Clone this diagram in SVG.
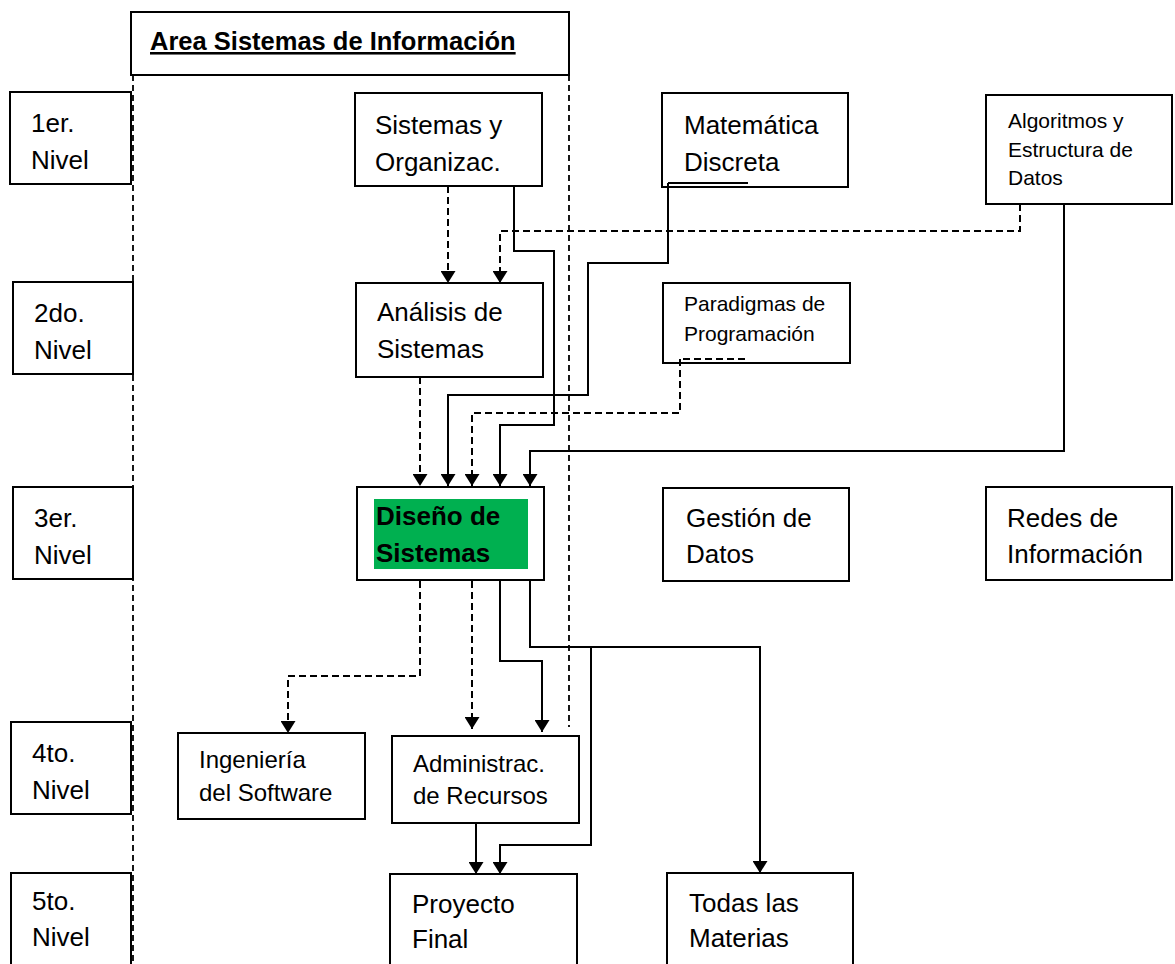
<svg xmlns="http://www.w3.org/2000/svg" width="1175" height="964" viewBox="0 0 1175 964">
<defs>
<style>
.box{fill:#fff;stroke:#000;stroke-width:2}
.t{font-family:"Liberation Sans",Arial,sans-serif;font-size:26px;fill:#000}
.m{font-size:24px}
.s{font-size:21px}
.b{font-weight:bold}
.h{font-size:25.5px}
.c{fill:none;stroke:#000;stroke-width:2}
.d{stroke-dasharray:7 4}
.border{fill:none;stroke:#000;stroke-width:1.8;stroke-dasharray:6 4}
</style>
<marker id="ah" viewBox="0 0 12 15" refX="12" refY="7.5" markerWidth="12" markerHeight="15" markerUnits="userSpaceOnUse" orient="auto">
<path d="M0,0 L12,7.5 L0,15 z" fill="#000"/>
</marker>
</defs>
<rect width="1175" height="964" fill="#fff"/>

<g id="area">
<rect class="box" x="131" y="12" width="438" height="63"/>
<text class="t b h" x="150" y="50" text-decoration="underline">Area Sistemas de Información</text>
</g>

<g id="borders">
<path class="border" d="M133,75 V964"/>
<path class="border" d="M569,75 V727"/>
</g>

<g id="nivel1"><rect class="box" x="10" y="92" width="121" height="92"/><text class="t" x="31" y="132">1er.</text><text class="t" x="31" y="169">Nivel</text></g>
<g id="nivel2"><rect class="box" x="13" y="282" width="120" height="92"/><text class="t" x="34" y="322">2do.</text><text class="t" x="34" y="359">Nivel</text></g>
<g id="nivel3"><rect class="box" x="13" y="487" width="120" height="92"/><text class="t" x="34" y="527">3er.</text><text class="t" x="34" y="564">Nivel</text></g>
<g id="nivel4"><rect class="box" x="11" y="722" width="120" height="92"/><text class="t" x="32" y="762">4to.</text><text class="t" x="32" y="799">Nivel</text></g>
<g id="nivel5"><rect class="box" x="11" y="873" width="120" height="100"/><text class="t" x="32" y="910">5to.</text><text class="t" x="32" y="946">Nivel</text></g>

<g id="sistemas-organizac"><rect class="box" x="355" y="93" width="187" height="93"/><text class="t" x="375" y="134">Sistemas y</text><text class="t" x="375" y="171">Organizac.</text></g>
<g id="matematica-discreta"><rect class="box" x="662" y="93" width="186" height="94"/><text class="t" x="684" y="134">Matemática</text><text class="t" x="684" y="171">Discreta</text></g>
<g id="algoritmos"><rect class="box" x="986" y="95" width="186" height="109"/><text class="t s" x="1008" y="128">Algoritmos y</text><text class="t s" x="1008" y="157">Estructura de</text><text class="t s" x="1008" y="185">Datos</text></g>
<g id="analisis-sistemas"><rect class="box" x="356" y="283" width="187" height="94"/><text class="t" x="377" y="321">Análisis de</text><text class="t" x="377" y="358">Sistemas</text></g>
<g id="paradigmas"><rect class="box" x="663" y="283" width="187" height="80"/><text class="t s" x="684" y="311">Paradigmas de</text><text class="t s" x="684" y="341">Programación</text></g>
<g id="diseno-sistemas"><rect class="box" x="357" y="487" width="187" height="93"/><rect x="374" y="499" width="154" height="70" fill="#00B050"/><text class="t b" x="376" y="525">Diseño de</text><text class="t b" x="376" y="562">Sistemas</text></g>
<g id="gestion-datos"><rect class="box" x="663" y="488" width="186" height="93"/><text class="t" x="686" y="527">Gestión de</text><text class="t" x="686" y="563">Datos</text></g>
<g id="redes-informacion"><rect class="box" x="986" y="487" width="186" height="93"/><text class="t" x="1007" y="527">Redes de</text><text class="t" x="1007" y="563">Información</text></g>
<g id="ingenieria-software"><rect class="box" x="178" y="733" width="187" height="86"/><text class="t m" x="199" y="768">Ingeniería</text><text class="t m" x="199" y="801">del Software</text></g>
<g id="administrac-recursos"><rect class="box" x="392" y="736" width="187" height="87"/><text class="t m" x="413" y="772">Administrac.</text><text class="t m" x="413" y="804">de Recursos</text></g>
<g id="proyecto-final"><rect class="box" x="390" y="874" width="187" height="100"/><text class="t" x="412" y="913">Proyecto</text><text class="t" x="412" y="948">Final</text></g>
<g id="todas-materias"><rect class="box" x="667" y="873" width="186" height="101"/><text class="t" x="689" y="912">Todas las</text><text class="t" x="689" y="947">Materias</text></g>

<g id="connectors">
<path class="c d" d="M448,186 V283" marker-end="url(#ah)"/>
<path class="c d" d="M1020,204 V231 H500 V283" marker-end="url(#ah)"/>
<path class="c d" d="M420,377 V486" marker-end="url(#ah)"/>
<path class="c d" d="M683,359 H748"/>
<path class="c d" d="M680,359 V413 H472 V486" marker-end="url(#ah)"/>
<path class="c d" d="M420,581 V676 H288 V733" marker-end="url(#ah)"/>
<path class="c d" d="M472,581 V729" marker-end="url(#ah)"/>
<path class="c" d="M514,186 V251 H554 V425 H500 V486" marker-end="url(#ah)"/>
<path class="c" d="M668,183 H748"/>
<path class="c" d="M668,183 V263 H588 V395 H448 V486" marker-end="url(#ah)"/>
<path class="c" d="M1064,204 V451 H530 V486" marker-end="url(#ah)"/>
<path class="c" d="M500,581 V661 H542 V732" marker-end="url(#ah)"/>
<path class="c" d="M530,581 V647 H760 V873" marker-end="url(#ah)"/>
<path class="c" d="M591,647 V845 H500 V874" marker-end="url(#ah)"/>
<path class="c" d="M476,823 V874" marker-end="url(#ah)"/>
</g>
</svg>
